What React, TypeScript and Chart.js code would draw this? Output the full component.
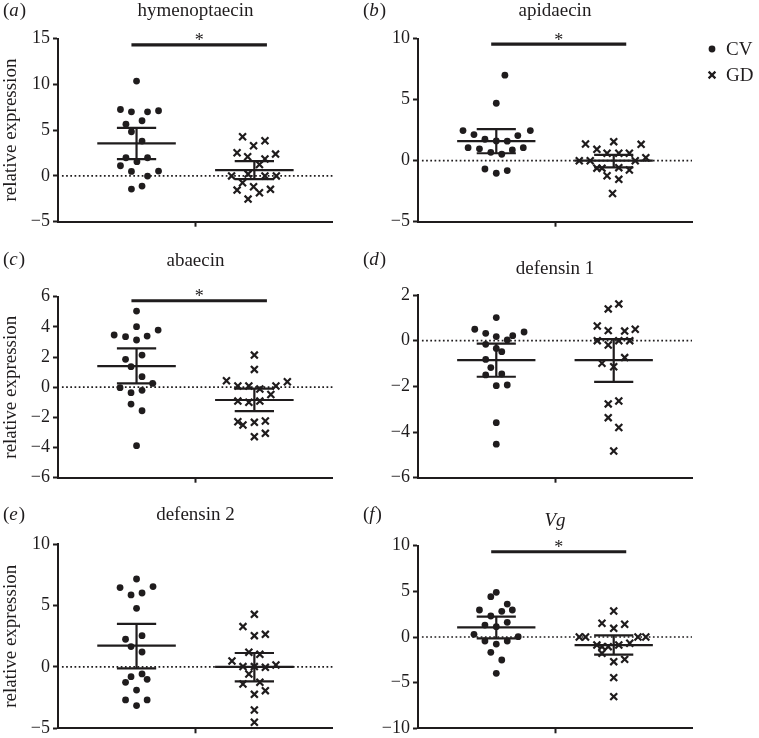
import React, { useEffect, useRef } from 'react';
import { Chart, registerables } from 'chart.js';

Chart.register(...registerables);

// ---------------- DATA ----------------
const groups = ['CV', 'GD'];
const panelLetters = ['a', 'b', 'c', 'd', 'e', 'f'];
const panelTitles = ['hymenoptaecin', 'apidaecin', 'abaecin', 'defensin 1', 'defensin 2', 'Vg'];
const yMins = [-5, -5, -6, -6, -5, -10];
const yMaxs = [15, 10, 6, 2, 10, 10];
const ySteps = [5, 5, 2, 2, 5, 5];
const yAxisTitle = 'relative expression';

// (a) hymenoptaecin
const aCV = [10.35, 7.25, 7.0, 7.0, 7.11, 5.65, 6.02, 4.82, 3.8, 1.98, 1.98, 1.11, 1.55, 0.49, 0.53, -0.02, -1.44, -1.11];
const aCVjitter = [0, -0.41, -0.13, 0.28, 0.56, -0.27, 0.14, -0.13, 0.14, -0.27, 0.28, -0.41, 0.01, -0.13, 0.56, 0.28, -0.13, 0.14];
const aGD = [4.27, 3.84, 3.29, 2.53, 2.38, 2.09, 1.84, 1.25, 0, 0.2, 0, 0, -0.75, -1.55, -1.18, -1.84, -1.47, -2.53];
const aGDjitter = [-0.3, 0.27, -0.02, -0.44, 0.54, -0.17, 0.27, 0.13, -0.58, -0.16, 0.27, 0.56, -0.3, -0.44, -0.02, 0.13, 0.41, -0.16];

// (b) apidaecin
const bCV = [7.01, 4.71, 2.47, 2.14, 1.76, 1.62, 1.6, 2.06, 2.47, 1.07, 0.97, 0.69, 0.53, 0.88, 1.07, -0.68, -1.03, -0.81];
const bCVjitter = [0.22, 0, -0.85, -0.57, -0.29, 0, 0.28, 0.55, 0.87, -0.72, -0.43, -0.14, 0.14, 0.41, 0.69, -0.29, 0, 0.28];
const bGD = [1.37, 0.93, 1.56, 1.34, 0.61, 0.61, 0.61, 0, 0, 0, 0.25, -0.61, -0.61, -0.57, -0.76, -1.23, -1.53, -2.69];
const bGDjitter = [-0.72, -0.43, 0, 0.7, -0.17, 0.13, 0.4, -0.88, -0.6, 0.55, 0.82, -0.43, -0.3, 0.13, 0.4, -0.17, 0.13, -0.03];

// (c) abaecin
const cCV = [5.05, 4.01, 3.79, 3.46, 3.35, 3.13, 3.39, 1.85, 2.13, 1.36, 0.7, 0.25, -0.03, -0.36, -0.21, -1.12, -1.56, -3.88];
const cCVjitter = [0, 0, 0.55, -0.57, -0.28, 0, 0.27, -0.28, 0.14, -0.14, 0.14, 0.41, -0.42, -0.14, 0.14, -0.14, 0.14, 0];
const cGD = [2.13, 1.18, 0.43, 0.36, 0.08, 0.08, -0.12, 0.08, -0.48, -0.92, -1.0, -0.92, -2.29, -2.51, -2.33, -2.24, -3.28, -3.06];
const cGDjitter = [0, 0, -0.71, 0.84, -0.42, -0.14, 0.14, 0.55, 0.42, -0.42, -0.14, 0.14, -0.42, -0.29, 0, 0.28, 0, 0.28];

// (d) defensin 1
const dCV = [1.01, 0.5, 0.32, 0.18, 0.03, 0.22, 0.38, -0.16, -0.34, -0.48, -0.82, -1.18, -1.5, -1.46, -1.97, -1.94, -3.59, -4.53];
const dCVjitter = [0, -0.55, -0.27, 0, 0.28, 0.42, 0.71, -0.27, 0, 0.14, -0.27, -0.14, -0.27, 0.14, 0, 0.28, 0, 0];
const dGD = [1.61, 1.39, 0.64, 0.44, 0.42, 0.5, 0, -0.19, 0, 0, -0.74, -0.99, -1.14, -2.64, -2.77, -3.37, -3.8, -4.83];
const dGDjitter = [0.13, -0.14, -0.42, -0.14, 0.28, 0.55, -0.42, -0.14, 0.13, 0.41, 0.28, -0.3, 0, 0.13, -0.14, -0.14, 0.13, 0];

// (e) defensin 2
const eCV = [7.17, 6.47, 6.55, 5.87, 6.03, 4.78, 2.26, 2.55, 1.66, 1.22, -0.79, -0.57, -1.25, -1.01, -1.88, -2.69, -2.69, -3.15];
const eCVjitter = [0, -0.42, 0.42, -0.14, 0.14, 0, -0.28, 0.14, -0.14, 0.14, -0.14, 0.14, -0.28, 0.27, 0, -0.28, 0.27, 0];
const eGD = [4.29, 3.29, 2.55, 2.66, 1.2, 1.03, 0.49, 0.03, 0.03, -0.03, 0.16, -0.57, -1.39, -1.25, -2.23, -1.93, -3.51, -4.51];
const eGDjitter = [0, -0.29, 0, 0.28, -0.14, 0.14, -0.57, -0.29, 0, 0.28, 0.55, -0.14, -0.29, 0.14, 0, 0.28, 0, 0];

// (f) Vg
const fCV = [4.89, 4.42, 3.61, 2.96, 2.3, 2.81, 2.96, 1.31, 1.13, 1.61, 0.29, 0.04, -0.44, -0.77, -0.44, -1.68, -2.52, -3.98];
const fCVjitter = [0, -0.14, 0.28, -0.43, -0.14, 0.14, 0.41, -0.29, 0, 0.28, -0.57, 0.56, -0.29, 0, 0.28, -0.14, 0.14, 0];
const fGD = [2.85, 1.5, 1.39, 0.95, 0, 0, 0, 0, -0.88, -1.06, -0.88, -0.69, -1.06, -1.79, -2.7, -2.45, -4.45, -6.53];
const fGDjitter = [0, -0.3, 0.28, 0, -0.88, -0.72, 0.62, 0.82, -0.43, -0.3, 0.13, 0.41, -0.14, -0.3, 0, 0.28, 0, 0];

// summary lines (mean with error bars) per panel
const cvMean = [3.55, 1.6, 1.4, -0.85, 1.74, 1.06];
const cvLow = [1.84, 0.61, 0.25, -1.58, -0.11, -0.15];
const cvHigh = [5.25, 2.58, 2.57, -0.13, 3.51, 2.23];
const gdMean = [0.64, 0, -0.85, -0.85, 0, -0.88];
const gdLow = [-0.35, -0.54, -1.58, -1.8, -1.17, -1.93];
const gdHigh = [1.62, 0.47, -0.1, 0.07, 1.14, 0.18];

// significance bars (null = none)
const sigLevel: (number | null)[] = [14.3, 9.56, 5.73, null, null, 9.34];
const sigLabel = '*';

const cvValues = [aCV, bCV, cCV, dCV, eCV, fCV];
const cvJitters = [aCVjitter, bCVjitter, cCVjitter, dCVjitter, eCVjitter, fCVjitter];
const gdValues = [aGD, bGD, cGD, dGD, eGD, fGD];
const gdJitters = [aGDjitter, bGDjitter, cGDjitter, dGDjitter, eGDjitter, fGDjitter];

// ---------------- STYLE / LAYOUT ----------------
const FONT = '"Liberation Serif", "Times New Roman", Times, serif';
const INK = '#1f1c1d';
const X_MIN = 0;
const X_MAX = 7;
const CV_X = 2;
const GD_X = 5;
const MEAN_HALF = 1;
const CAP_HALF = 0.5;
const SIG_FROM = 1.87;
const SIG_TO = 5.32;
const XH = 8;
const ROW_H = 246;
const Y_AXIS_W = 58;

type Geo = {
  left: number; top: number; w: number; areaRight: number;
  areaTop: number; areaBottom: number; titleY: number; letterY: number;
  yLabel: boolean; legend: boolean;
};

const geos: Geo[] = [
  { left: 0, top: 0, w: 340, areaRight: 333, areaTop: 38.5, areaBottom: 221.7, titleY: 16, letterY: 16, yLabel: true, legend: false },
  { left: 360, top: 0, w: 399, areaRight: 332, areaTop: 38.7, areaBottom: 221.7, titleY: 16, letterY: 16, yLabel: false, legend: true },
  { left: 0, top: 246, w: 340, areaRight: 333, areaTop: 50.7, areaBottom: 231.7, titleY: 20, letterY: 19, yLabel: true, legend: false },
  { left: 360, top: 246, w: 399, areaRight: 332, areaTop: 49, areaBottom: 231.7, titleY: 27.5, letterY: 19, yLabel: false, legend: false },
  { left: 0, top: 492, w: 340, areaRight: 333, areaTop: 52.3, areaBottom: 236.3, titleY: 28, letterY: 28, yLabel: true, legend: false },
  { left: 360, top: 492, w: 399, areaRight: 332, areaTop: 53.7, areaBottom: 236.3, titleY: 34, letterY: 28, yLabel: false, legend: false },
];

function seg(x1: number, y1: number, x2: number, y2: number, width: number, dash: number[] = []) {
  return {
    type: 'scatter' as const,
    data: [{ x: x1, y: y1 }, { x: x2, y: y2 }],
    showLine: true,
    borderColor: INK,
    backgroundColor: INK,
    borderWidth: width,
    borderDash: dash,
    borderCapStyle: 'butt' as const,
    pointRadius: 0,
    pointHoverRadius: 0,
    clip: false as any,
  };
}

function summary(cx: number, mean: number, lo: number, hi: number) {
  return [
    seg(cx - MEAN_HALF, mean, cx + MEAN_HALF, mean, 2.2),
    seg(cx - CAP_HALF, hi, cx + CAP_HALF, hi, 2.2),
    seg(cx - CAP_HALF, lo, cx + CAP_HALF, lo, 2.2),
    seg(cx, lo, cx, hi, 2.2),
  ];
}

function buildConfig(i: number): any {
  const g = geos[i];
  const sig = sigLevel[i];
  const datasets: any[] = [
    {
      label: groups[0],
      type: 'scatter',
      data: cvValues[i].map((y, k) => ({ x: CV_X + cvJitters[i][k], y })),
      pointStyle: 'circle',
      pointRadius: 3.4,
      backgroundColor: INK,
      borderColor: INK,
      borderWidth: 0,
      clip: false,
    },
    {
      label: groups[1],
      type: 'scatter',
      data: gdValues[i].map((y, k) => ({ x: GD_X + gdJitters[i][k], y })),
      pointStyle: 'crossRot',
      pointRadius: 4.9,
      backgroundColor: INK,
      borderColor: INK,
      borderWidth: 2.2,
      clip: false,
    },
    ...summary(CV_X, cvMean[i], cvLow[i], cvHigh[i]),
    ...summary(GD_X, gdMean[i], gdLow[i], gdHigh[i]),
  ];
  if (sig !== null) datasets.push(seg(SIG_FROM, sig, SIG_TO, sig, 3.2));
  datasets.push(seg(X_MIN + 0.1, 0, X_MAX, 0, 1.7, [1.7, 2.5]));

  const annot = {
    id: 'annot' + i,
    afterDraw(chart: any) {
      const { ctx, chartArea, scales } = chart;
      ctx.save();
      ctx.fillStyle = INK;
      // title
      ctx.font = `${i === 5 ? 'italic ' : ''}19px ${FONT}`;
      ctx.textAlign = 'center';
      ctx.textBaseline = 'alphabetic';
      ctx.fillText(panelTitles[i], (chartArea.left + chartArea.right) / 2, g.titleY);
      // panel letter
      ctx.textAlign = 'left';
      let x = 3;
      ctx.font = `19px ${FONT}`;
      ctx.fillText('(', x, g.letterY);
      x += ctx.measureText('(').width;
      ctx.font = `italic 19px ${FONT}`;
      ctx.fillText(panelLetters[i], x, g.letterY);
      x += ctx.measureText(panelLetters[i]).width + 1;
      ctx.font = `19px ${FONT}`;
      ctx.fillText(')', x, g.letterY);
      // significance star
      if (sig !== null) {
        ctx.textAlign = 'center';
        ctx.font = `18px ${FONT}`;
        const sx = scales.x.getPixelForValue((SIG_FROM + SIG_TO) / 2);
        const sy = scales.y.getPixelForValue(sig);
        ctx.fillText(sigLabel, sx, sy + 1.5);
      }
      // legend
      if (g.legend) {
        const lx = 352;
        const rows = [49, 75];
        ctx.font = `19px ${FONT}`;
        ctx.textAlign = 'left';
        ctx.textBaseline = 'middle';
        rows.forEach((ry, k) => {
          ctx.strokeStyle = INK;
          ctx.fillStyle = INK;
          if (k === 0) {
            ctx.beginPath();
            ctx.arc(lx, ry, 3.4, 0, Math.PI * 2);
            ctx.fill();
          } else {
            const r = 3.4;
            ctx.lineWidth = 2.2;
            ctx.beginPath();
            ctx.moveTo(lx - r, ry - r);
            ctx.lineTo(lx + r, ry + r);
            ctx.moveTo(lx - r, ry + r);
            ctx.lineTo(lx + r, ry - r);
            ctx.stroke();
          }
          ctx.fillText(groups[k], lx + 14, ry + 1);
        });
      }
      ctx.restore();
    },
  };

  return {
    type: 'scatter',
    data: { datasets },
    plugins: [annot],
    options: {
      responsive: false,
      maintainAspectRatio: false,
      animation: false,
      devicePixelRatio: 1,
      events: [],
      layout: {
        padding: {
          left: 0,
          right: g.w - g.areaRight,
          top: g.areaTop,
          bottom: ROW_H - g.areaBottom - XH,
        },
      },
      plugins: { legend: { display: false }, tooltip: { enabled: false }, title: { display: false } },
      scales: {
        x: {
          type: 'linear',
          position: 'bottom',
          min: X_MIN,
          max: X_MAX,
          afterBuildTicks: (s: any) => { s.ticks = [{ value: (X_MIN + X_MAX) / 2 }]; },
          afterFit: (s: any) => { s.height = XH; s.paddingLeft = 0; s.paddingRight = 0; },
          ticks: { display: false },
          grid: { drawOnChartArea: false, drawTicks: true, tickLength: 5, tickWidth: 2, tickColor: INK },
          border: { display: true, color: INK, width: 2 },
        },
        y: {
          type: 'linear',
          position: 'left',
          min: yMins[i],
          max: yMaxs[i],
          afterFit: (s: any) => { s.width = Y_AXIS_W; s.paddingTop = 0; s.paddingBottom = 0; },
          ticks: {
            stepSize: ySteps[i],
            color: INK,
            padding: 3,
            font: { family: FONT, size: 18 },
            callback: (v: number) => (v < 0 ? '\u2212' + Math.abs(v) : String(v)),
          },
          grid: { drawOnChartArea: false, drawTicks: true, tickLength: 5, tickWidth: 2, tickColor: INK },
          border: { display: true, color: INK, width: 2 },
          title: {
            display: g.yLabel,
            text: yAxisTitle,
            color: INK,
            font: { family: FONT, size: 19 },
            padding: 0,
          },
        },
      },
    },
  };
}

function Panel({ index }: { index: number }) {
  const ref = useRef<HTMLCanvasElement | null>(null);
  const g = geos[index];
  useEffect(() => {
    if (!ref.current) return;
    const chart = new Chart(ref.current, buildConfig(index));
    return () => chart.destroy();
  }, [index]);
  return (
    <canvas
      ref={ref}
      width={g.w}
      height={ROW_H}
      style={{ position: 'absolute', left: g.left, top: g.top, width: g.w, height: ROW_H }}
    />
  );
}

export default function App() {
  return (
    <div style={{ position: 'absolute', left: 0, top: 0, width: 759, height: 738, background: '#fff', overflow: 'hidden' }}>
      {panelLetters.map((_, i) => (
        <Panel key={i} index={i} />
      ))}
    </div>
  );
}
